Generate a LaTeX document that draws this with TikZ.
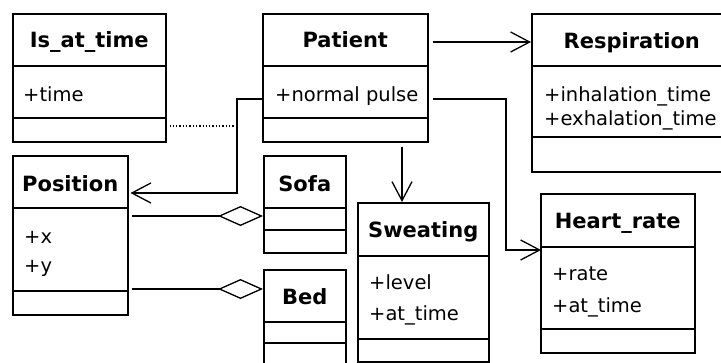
\documentclass[tikz,border=0pt]{standalone}
\usepackage{fontspec}
\setmainfont{DejaVu Sans}
\usetikzlibrary{arrows.meta}
\tikzset{
  box/.style={draw, line width=1.5pt, rectangle, inner sep=0pt, anchor=north west},
  sep/.style={line width=1.5pt},
  ttl/.style={font=\bfseries\fontsize{21}{25}\selectfont, anchor=base, inner sep=0pt},
  att/.style={font=\fontsize{19.5}{24}\selectfont, anchor=base west, inner sep=0pt},
  conn/.style={line width=1.3pt},
  arr/.style={conn, -{Straight Barb[length=19pt,width=20pt,line width=1.3pt]}},
  agg/.style={conn, -{Diamond[open,length=45pt,width=20pt,line width=1.3pt]}},
  assoc/.style={conn, dotted}
}
\begin{document}
\begin{tikzpicture}[x=1pt,y=-1pt]
\useasboundingbox (0,0) rectangle (721,362);
\clip (0,0) rectangle (721,362);
% boxes
\node[box, minimum width=153pt, minimum height=128pt] (isat) at (12,13) {};
\draw[sep] (isat.west |- 0,66) -- (isat.east |- 0,66);
\draw[sep] (isat.west |- 0,118) -- (isat.east |- 0,118);
\node[ttl] (isatT) at (isat.north |- 0,47) {Is\_at\_time};
\node[att] (isatA) at (23,101) {+time};

\node[box, minimum width=165pt, minimum height=128pt] (patient) at (262,13) {};
\draw[sep] (patient.west |- 0,66) -- (patient.east |- 0,66);
\draw[sep] (patient.west |- 0,118) -- (patient.east |- 0,118);
\node[ttl] (patientT) at (patient.north |- 0,47) {Patient};
\node[att] (patientA) at (275,101) {+normal pulse};

\node[box, minimum width=200pt, minimum height=158pt] (resp) at (531,13) {};
\draw[sep] (resp.west |- 0,66) -- (resp.east |- 0,66);
\draw[sep] (resp.west |- 0,137) -- (resp.east |- 0,137);
\node[ttl] (respT) at (resp.north |- 0,48) {Respiration};
\node[att] (respA) at (544,101) {+inhalation\_time};
\node[att] (respB) at (544,125) {+exhalation\_time};

\node[box, minimum width=115pt, minimum height=159pt] (pos) at (12,155) {};
\draw[sep] (pos.west |- 0,208) -- (pos.east |- 0,208);
\draw[sep] (pos.west |- 0,291) -- (pos.east |- 0,291);
\node[ttl] (posT) at (pos.north |- 0,191) {Position};
\node[att] (posA) at (24,243) {+x};
\node[att] (posB) at (24,272) {+y};

\node[box, minimum width=82pt, minimum height=97pt] (sofa) at (263,155) {};
\draw[sep] (sofa.west |- 0,208) -- (sofa.east |- 0,208);
\draw[sep] (sofa.west |- 0,230) -- (sofa.east |- 0,230);
\node[ttl] (sofaT) at (sofa.north |- 0,191) {Sofa};

\node[box, minimum width=82pt, minimum height=100pt] (bed) at (263,269) {};
\draw[sep] (bed.west |- 0,322) -- (bed.east |- 0,322);
\draw[sep] (bed.west |- 0,343) -- (bed.east |- 0,343);
\node[ttl] (bedT) at (bed.north |- 0,304) {Bed};

\node[box, minimum width=131pt, minimum height=159pt] (sweat) at (357,202) {};
\draw[sep] (sweat.west |- 0,256) -- (sweat.east |- 0,256);
\draw[sep] (sweat.west |- 0,339) -- (sweat.east |- 0,339);
\node[ttl] (sweatT) at (sweat.north |- 0,237) {Sweating};
\node[att] (sweatA) at (369,289) {+level};
\node[att] (sweatB) at (369,320) {+at\_time};

\node[box, minimum width=154pt, minimum height=159pt] (heart) at (540,193) {};
\draw[sep] (heart.west |- 0,247) -- (heart.east |- 0,247);
\draw[sep] (heart.west |- 0,329) -- (heart.east |- 0,329);
\node[ttl] (heartT) at (heart.north |- 0,228) {Heart\_rate};
\node[att] (heartA) at (552,280) {+rate};
\node[att] (heartB) at (552,312) {+at\_time};

% connectors
\coordinate (j1) at (237,99);
\coordinate (j2) at (237,193);
\draw[arr] (patient.west |- j1) -- (j1) -- (j2) -- ([xshift=2pt]pos.east |- j2);
\draw[assoc] ([xshift=3pt]isat.east |- 0,126) -- (j1 |- 0,126);
\draw[arr] ([xshift=4pt]patient.east |- 0,42) -- (resp.west |- 0,42);
\coordinate (h1) at (506,99);
\coordinate (h2) at (506,250);
\draw[arr] ([xshift=4pt]patient.east |- h1) -- (h1) -- (h2) -- ([xshift=1pt]heart.west |- h2);
\draw[arr] ([yshift=-4pt]patient.south -| 402,0) -- (sweat.north -| 402,0);
\draw[agg] ([xshift=3pt]pos.east |- 0,216) -- (sofa.west |- 0,216);
\draw[agg] ([xshift=3pt]pos.east |- 0,289) -- (bed.west |- 0,289);
\end{tikzpicture}
\end{document}
